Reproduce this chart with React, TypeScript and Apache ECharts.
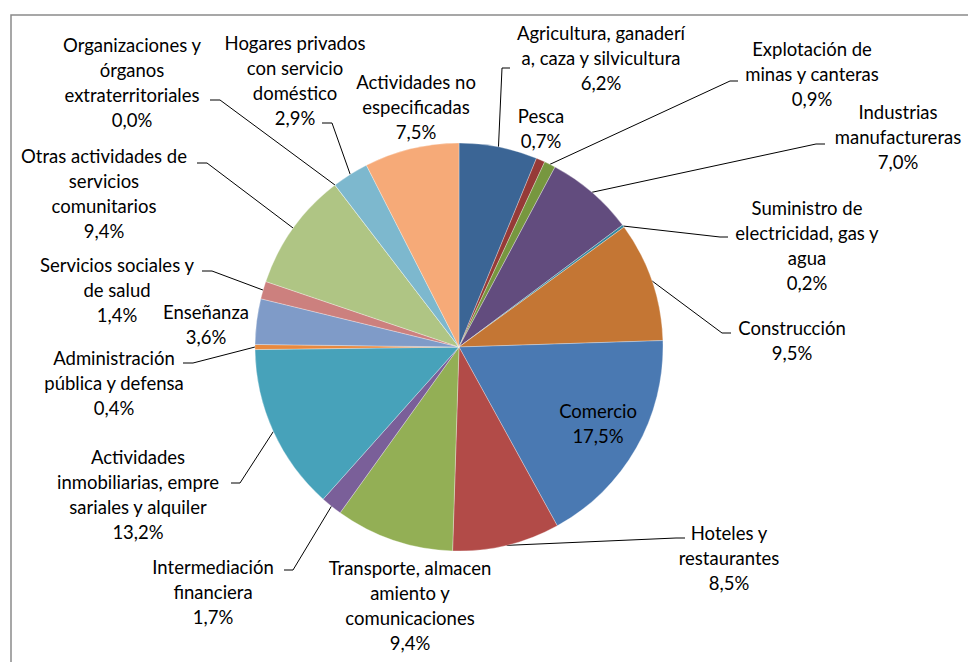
import React, { useEffect, useRef } from "react";
import * as echarts from "echarts";

// Sector names (as wrapped in the reference) and their shares (%)
const categories: string[] = [
  "Agricultura, ganaderí\na, caza y silvicultura",
  "Pesca",
  "Explotación de\nminas y canteras",
  "Industrias\nmanufactureras",
  "Suministro de\nelectricidad, gas y\nagua",
  "Construcción",
  "Comercio",
  "Hoteles y\nrestaurantes",
  "Transporte, almacen\namiento y\ncomunicaciones",
  "Intermediación\nfinanciera",
  "Actividades\ninmobiliarias, empre\nsariales y alquiler",
  "Administración\npública y defensa",
  "Enseñanza",
  "Servicios sociales y\nde salud",
  "Otras actividades de\nservicios\ncomunitarios",
  "Organizaciones y\nórganos\nextraterritoriales",
  "Hogares privados\ncon servicio\ndoméstico",
  "Actividades no\nespecificadas",
];

const shares: number[] = [
  6.2, 0.7, 0.9, 7.0, 0.2, 9.5, 17.5, 8.5, 9.4, 1.7, 13.2, 0.4, 3.6, 1.4, 9.4, 0.0, 2.9, 7.5,
];

const colors: string[] = [
  "#3B6595", "#963A37", "#77973F", "#624C7E", "#3387A0", "#C47634",
  "#4A79B2", "#B24B48", "#93AF55", "#7A5F99", "#47A2BA", "#E8893F",
  "#7F9BC8", "#CC807E", "#AFC584", "#A18FB8", "#7DB8CE", "#F6AA78",
];

// Label placement (label centre) and leader line elbow/end, none = no leader
type Place = { x: number; y: number; elbow?: number[]; end?: number[] };
const placements: Place[] = [
  { x: 601, y: 58, elbow: [502, 68], end: [510, 68] },
  { x: 541, y: 128 },
  { x: 812, y: 74, elbow: [730, 81], end: [738, 81] },
  { x: 898, y: 137, elbow: [816, 144], end: [825, 144] },
  { x: 807, y: 245, elbow: [720, 237], end: [728, 237] },
  { x: 792, y: 340, elbow: [722, 333], end: [731, 333] },
  { x: 598, y: 423 },
  { x: 729, y: 558, elbow: [676, 538], end: [685, 538] },
  { x: 410, y: 605 },
  { x: 213, y: 592, elbow: [293, 570], end: [284, 570] },
  { x: 138, y: 494, elbow: [240, 483], end: [231, 483] },
  { x: 114, y: 383, elbow: [193, 363], end: [183, 363] },
  { x: 206, y: 324 },
  { x: 117, y: 290, elbow: [212, 271], end: [202, 271] },
  { x: 104, y: 193, elbow: [207, 163], end: [197, 163] },
  { x: 132, y: 82, elbow: [220, 100], end: [210, 100] },
  { x: 295, y: 80, elbow: [332, 123], end: [322, 123] },
  { x: 416, y: 107 },
];

const fmtPct = (v: number) => v.toFixed(1).replace(".", ",") + "%";

export default function App() {
  const ref = useRef<HTMLDivElement>(null);

  useEffect(() => {
    if (!ref.current) return;
    const chart = echarts.init(ref.current, undefined, { renderer: "svg" });

    const data = categories.map((name, i) => ({
      name,
      value: shares[i],
      itemStyle: { color: colors[i] },
      labelLine: { show: !!placements[i].end },
    }));

    chart.setOption({
      animation: false,
      backgroundColor: "#ffffff",
      textStyle: { fontFamily: "Lato, 'Open Sans', sans-serif" },
      graphic: [
        {
          type: "rect",
          shape: { x: 11, y: 15, width: 1000, height: 700 },
          style: { fill: "none", stroke: "#8A8A8A", lineWidth: 1.5 },
          silent: true,
        },
      ],
      series: [
        {
          type: "pie",
          center: [459, 347],
          radius: 204,
          startAngle: 90,
          clockwise: true,
          avoidLabelOverlap: false,
          minShowLabelAngle: 0,
          itemStyle: { borderColor: "rgba(255,255,255,0.6)", borderWidth: 0.5 },
          label: {
            show: true,
            position: "outside",
            color: "#000",
            fontSize: 18.5,
            lineHeight: 25,
            fontFamily: "Lato, 'Open Sans', sans-serif",
            formatter: (p: any) => `${p.name}\n${fmtPct(p.value)}`,
          },
          labelLine: {
            show: true,
            length: 10,
            length2: 10,
            lineStyle: { color: "#000", width: 1 },
          },
          labelLayout: (p: any) => {
            const c = placements[p.dataIndex];
            const out: any = { x: c.x, y: c.y, align: "center", verticalAlign: "middle" };
            if (c.end && p.labelLinePoints && p.labelLinePoints.length) {
              out.labelLinePoints = [p.labelLinePoints[0], c.elbow, c.end];
            }
            return out;
          },
          emphasis: { disabled: true },
          data,
        },
      ],
    });

    return () => chart.dispose();
  }, []);

  return (
    <div
      ref={ref}
      style={{ position: "fixed", left: 0, top: 0, width: 968, height: 662, background: "#fff" }}
    />
  );
}
